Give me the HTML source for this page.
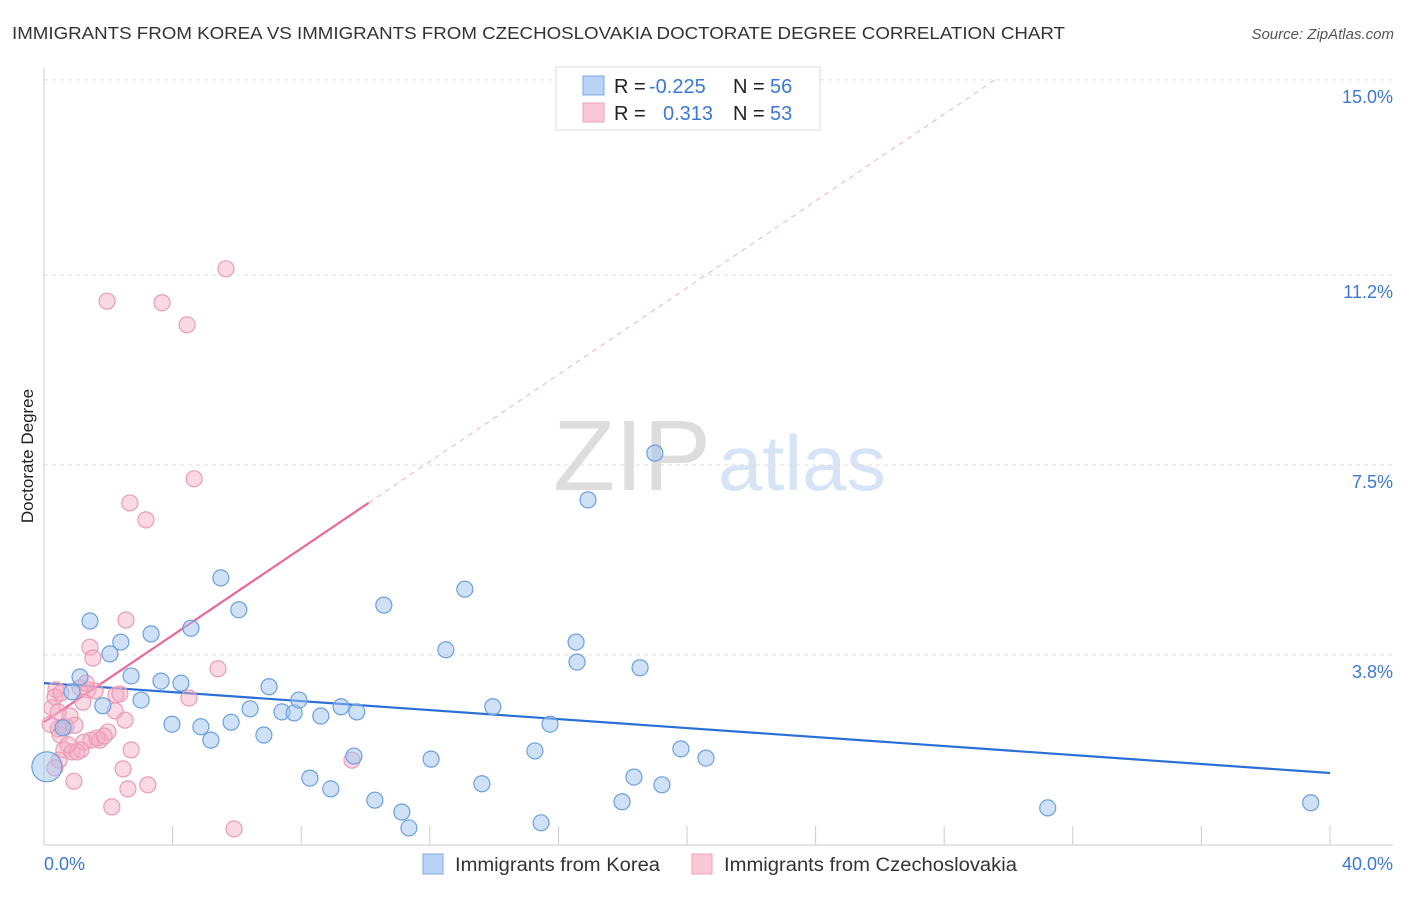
<!DOCTYPE html>
<html><head><meta charset="utf-8"><style>
body{margin:0;background:#fff;font-family:"Liberation Sans",sans-serif;}
svg text{font-family:"Liberation Sans",sans-serif;}
</style></head><body>
<svg id="chart" width="1406" height="892" viewBox="0 0 1406 892" xmlns="http://www.w3.org/2000/svg">
<text x="12" y="39" font-size="17.5" fill="#333" textLength="1053" lengthAdjust="spacingAndGlyphs">IMMIGRANTS FROM KOREA VS IMMIGRANTS FROM CZECHOSLOVAKIA DOCTORATE DEGREE CORRELATION CHART</text>
<text x="1394" y="39" font-size="15" fill="#555" font-style="italic" text-anchor="end">Source: ZipAtlas.com</text>
<g>
<text x="553" y="490" font-size="100" fill="#ddd" font-family="Liberation Serif" textLength="158" lengthAdjust="spacingAndGlyphs">ZIP</text>
<text x="718" y="490" font-size="78" fill="#d6e4f5" textLength="168" lengthAdjust="spacingAndGlyphs">atlas</text>
</g>
<g id="grid"></g>
<g id="axes"></g>
<text transform="translate(33,456) rotate(-90)" font-size="17" fill="#222" text-anchor="middle">Doctorate Degree</text>
<g id="lines"></g>
<g id="pts"></g>
<g>
<rect x="556" y="67" width="264" height="63" fill="#fff" stroke="#ddd"/>
<rect x="583" y="76" width="21" height="19" fill="#b8d3f5" stroke="#7eaae6"/>
<rect x="583" y="103" width="21" height="19" fill="#fac8d6" stroke="#eea2ba"/>
<text x="614" y="93" font-size="20" fill="#222">R = <tspan x="649" fill="#3b78d4">-0.225</tspan></text>
<text x="733" y="93" font-size="20" fill="#222">N = <tspan x="770" fill="#3b78d4">56</tspan></text>
<text x="614" y="120" font-size="20" fill="#222">R = <tspan x="663" fill="#3b78d4">0.313</tspan></text>
<text x="733" y="120" font-size="20" fill="#222">N = <tspan x="770" fill="#3b78d4">53</tspan></text>
</g>
<g>
<rect x="423" y="854" width="20" height="20" fill="#b8d3f5" stroke="#7eaae6"/>
<text x="455" y="871" font-size="19" fill="#333" textLength="205" lengthAdjust="spacingAndGlyphs">Immigrants from Korea</text>
<rect x="692" y="854" width="20" height="20" fill="#fac8d6" stroke="#eea2ba"/>
<text x="724" y="871" font-size="19" fill="#333" textLength="293" lengthAdjust="spacingAndGlyphs">Immigrants from Czechoslovakia</text>
</g>
</svg>
<script>
const koreaX=[1.12,1.43,2.39,2.05,3.33,2.71,3.02,3.64,4.26,4.57,5.50,6.06,3.98,4.88,5.19,5.82,6.41,6.84,7.00,7.40,7.78,7.93,8.27,8.61,8.92,9.24,9.73,9.64,10.29,10.57,11.13,11.35,12.04,12.50,13.09,13.62,13.96,15.27,15.46,15.74,16.55,16.58,16.92,17.98,18.35,18.54,19.00,19.22,19.81,20.59,31.22,39.40,0.09,0.59,0.87,1.83];
const koreaY=[3.37,4.46,4.05,3.82,4.21,3.39,2.92,3.29,3.25,4.32,5.30,4.68,2.45,2.40,2.14,2.49,2.75,2.24,3.18,2.69,2.67,2.92,1.40,2.61,1.19,2.79,2.69,1.83,0.97,4.77,0.74,0.43,1.77,3.90,5.08,1.29,2.79,1.93,0.53,2.45,4.05,3.66,6.82,0.94,1.42,3.55,7.73,1.27,1.97,1.79,0.82,0.92,1.62,2.38,3.08,2.81];
const czechX=[5.66,1.96,3.67,4.45,4.67,2.67,3.17,2.55,1.43,1.52,5.41,4.51,0.37,0.34,0.53,1.12,1.37,1.59,2.24,2.36,2.21,1.21,0.81,0.25,0.44,0.68,2.52,1.99,1.74,1.46,1.24,0.62,0.87,1.15,1.03,2.71,0.47,2.46,9.58,3.23,0.93,2.61,2.11,5.91,0.19,0.50,1.65,1.87,0.75,0.34,1.31,0.44,0.96];
const czechY=[11.32,10.69,10.66,10.23,7.23,6.76,6.43,4.48,3.95,3.74,3.53,2.96,3.12,2.98,3.06,3.16,3.12,3.10,3.02,3.04,2.71,2.88,2.61,2.77,2.36,2.40,2.53,2.30,2.14,2.14,2.10,1.95,1.91,1.95,1.91,1.95,1.75,1.58,1.75,1.27,1.34,1.19,0.84,0.41,2.45,2.24,2.18,2.22,2.05,1.60,3.25,2.69,2.43];
const yTicks=[3.8,7.5,11.2,15.0];
const yTickLabels=["3.8%","7.5%","11.2%","15.0%"];
const xTicks=[0,4,8,12,16,20,24,28,32,36,40];
const koreaTrend=[3.25,1.50];
const czechTrend=[2.49,0.423];
const NS="http://www.w3.org/2000/svg";
const X0=44,X1=1330,Y0=850,PX_PER_PCT=51.34;
function sx(v){return X0+(v/40)*(X1-X0);}
function sy(v){return Y0-v*PX_PER_PCT;}
function mk(tag,attrs,parent){const e=document.createElementNS(NS,tag);for(const k in attrs)e.setAttribute(k,attrs[k]);parent.appendChild(e);return e;}
const grid=document.getElementById('grid'),axes=document.getElementById('axes'),lines=document.getElementById('lines'),pts=document.getElementById('pts');
yTicks.forEach((t,i)=>{
 const l=mk('line',{x1:X0,x2:1393,y1:sy(t),y2:sy(t),stroke:'#ddd','stroke-dasharray':'4,4'},grid);
 
 
 const tx=mk('text',{x:1393,y:sy(t)+23,'font-size':18,fill:'#3b78d4','text-anchor':'end'},axes);
 tx.textContent=yTickLabels[i];
 
 
});
const ya=mk('line',{x1:X0,x2:X0,y1:68,y2:845,stroke:'#ccc'},axes);


const xa=mk('line',{x1:X0,x2:1393,y1:845,y2:845,stroke:'#ccc'},axes);


xTicks.forEach(t=>{
 const l=mk('line',{x1:sx(t),x2:sx(t),y1:826,y2:845,stroke:'#ccc'},axes);
 
 
});
const xl0=mk('text',{x:44,y:870,'font-size':18,fill:'#3b78d4'},axes);xl0.textContent=xTicks[0].toFixed(1)+'%';


const xl1=mk('text',{x:1393,y:870,'font-size':18,fill:'#3b78d4','text-anchor':'end'},axes);xl1.textContent=xTicks[xTicks.length-1].toFixed(1)+'%';


czechX.forEach((x,i)=>{
 const c=mk('circle',{cx:sx(x),cy:sy(czechY[i]),r:8,fill:'rgba(245,170,195,0.45)',stroke:'#eb9ab5','stroke-width':1.2},pts);
 
 
});
koreaX.forEach((x,i)=>{
 const c=mk('circle',{cx:sx(x),cy:sy(koreaY[i]),r:(i===52?15:8),fill:'rgba(160,195,240,0.5)',stroke:'#6a9fe0','stroke-width':1.2},pts);
 
 
});
const kt=mk('line',{x1:sx(0),y1:sy(koreaTrend[0]),x2:sx(40),y2:sy(koreaTrend[1]),stroke:'#2a6fd6','stroke-width':2.2},lines);


const cEnd=10.1,cDash=(15-czechTrend[0])/czechTrend[1];
const ct=mk('line',{x1:sx(0),y1:sy(czechTrend[0]),x2:sx(cEnd),y2:sy(czechTrend[0]+czechTrend[1]*cEnd),stroke:'#e8689a','stroke-width':2.2},lines);


const cd=mk('line',{x1:sx(cEnd),y1:sy(czechTrend[0]+czechTrend[1]*cEnd),x2:sx(cDash),y2:sy(15),stroke:'#eeb0c6','stroke-width':1,'stroke-dasharray':'5,5'},lines);


</script>
</body></html>
